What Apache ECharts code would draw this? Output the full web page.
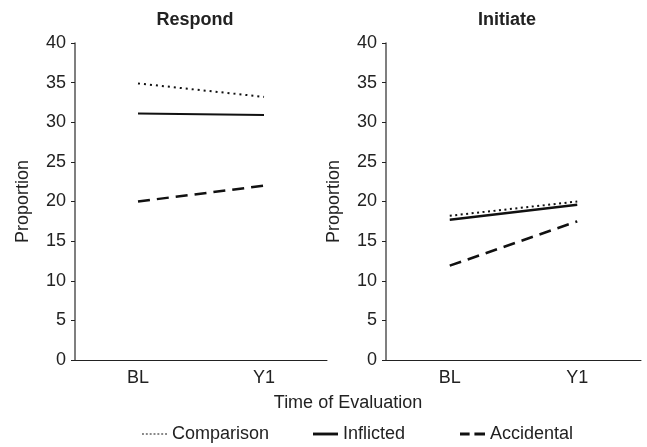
<!DOCTYPE html>
<html>
<head>
<meta charset="utf-8">
<script src="https://cdn.jsdelivr.net/npm/echarts@6/dist/echarts.min.js"></script>
<style>
  html, body { margin: 0; padding: 0; background: #fff; }
  #chart { width: 647px; height: 447px; }
</style>
</head>
<body>
<div id="chart"></div>
<script>
var times = ['BL', 'Y1'];
var panels = ['Respond', 'Initiate'];
var groups = ['Comparison', 'Inflicted', 'Accidental'];

// Respond panel
var respondComparison = [34.9, 33.2];
var respondInflicted = [31.1, 30.9];
var respondAccidental = [20.0, 22.0];

// Initiate panel
var initiateComparison = [18.2, 20.0];
var initiateInflicted = [17.7, 19.6];
var initiateAccidental = [11.9, 17.5];

var fontFam = '"Liberation Sans", Arial, Helvetica, sans-serif';
var ink = '#222';

// legend sample shapes (dotted / solid / dashed)
var legendIcons = [
    'path://M0,0h2v2h-2z M4,0h2v2h-2z M8,0h2v2h-2z M12,0h2v2h-2z M16,0h2v2h-2z M20,0h2v2h-2z M24,0h2v2h-2z',
    'path://M0,0h26v3h-26z',
    'path://M0,0h10v3h-10z M15,0h11v3h-11z'
];
var legendLeft = [137, 308, 455];
var legendColor = ['#888', '#111', '#111'];
var legendHeight = [2, 3, 3];

function xAxisFor(idx) {
    return {
        type: 'category',
        gridIndex: idx,
        data: times,
        boundaryGap: true,
        axisLine: { lineStyle: { color: ink, width: 1 } },
        axisTick: { length: 4, lineStyle: { color: ink } },
        axisLabel: { color: ink, fontSize: 18, fontFamily: fontFam, margin: 9 }
    };
}

function yAxisFor(idx) {
    return {
        type: 'value',
        gridIndex: idx,
        min: 0,
        max: 40,
        interval: 5,
        name: 'Proportion',
        nameLocation: 'middle',
        nameGap: 43,
        nameTextStyle: { color: ink, fontSize: 18, fontFamily: fontFam },
        axisLine: { show: true, lineStyle: { color: '#555', width: 1.5 } },
        axisTick: { show: true, length: 4, lineStyle: { color: ink } },
        axisLabel: { color: ink, fontSize: 18, fontFamily: fontFam, margin: 9 },
        splitLine: { show: false }
    };
}

function lineSeries(name, idx, values, type, width) {
    return {
        name: name,
        type: 'line',
        xAxisIndex: idx,
        yAxisIndex: idx,
        data: values,
        symbol: 'none',
        silent: true,
        itemStyle: { color: '#111' },
        lineStyle: { color: '#111', width: width, type: type }
    };
}

var legends = groups.map(function (g, i) {
    return {
        left: legendLeft[i],
        top: 420,
        itemWidth: 25,
        itemHeight: legendHeight[i],
        selectedMode: false,
        textStyle: { color: ink, fontSize: 18, fontFamily: fontFam },
        data: [{ name: g, icon: legendIcons[i], itemStyle: { color: legendColor[i] } }]
    };
});

var dotted = [2, 4];
var dashed = [12, 7];

function titleAt(text, x, y, bold) {
    return {
        text: text, left: x, top: y, textAlign: 'center', padding: 0,
        textStyle: { fontSize: 18, fontWeight: bold ? 'bold' : 'normal', color: ink, fontFamily: fontFam }
    };
}

var myChart = echarts.init(document.getElementById('chart'));
var option = {
    backgroundColor: '#fff',
    animation: false,
    title: [
        titleAt(panels[0], 195, 11, true),
        titleAt(panels[1], 507, 11, true),
        titleAt('Time of Evaluation', 348, 394, false)
    ],
    legend: legends,
    grid: [
        { left: 75, top: 43, width: 252, height: 317 },
        { left: 386, top: 43, width: 255, height: 317 }
    ],
    xAxis: [xAxisFor(0), xAxisFor(1)],
    yAxis: [yAxisFor(0), yAxisFor(1)],
    series: [
        lineSeries(groups[0], 0, respondComparison, dotted, 2),
        lineSeries(groups[1], 0, respondInflicted, 'solid', 2),
        lineSeries(groups[2], 0, respondAccidental, dashed, 2.5),
        lineSeries(groups[0], 1, initiateComparison, [2, 3.5], 2),
        lineSeries(groups[1], 1, initiateInflicted, 'solid', 2.5),
        lineSeries(groups[2], 1, initiateAccidental, dashed, 2.5)
    ]
};
myChart.setOption(option);
</script>
</body>
</html>
